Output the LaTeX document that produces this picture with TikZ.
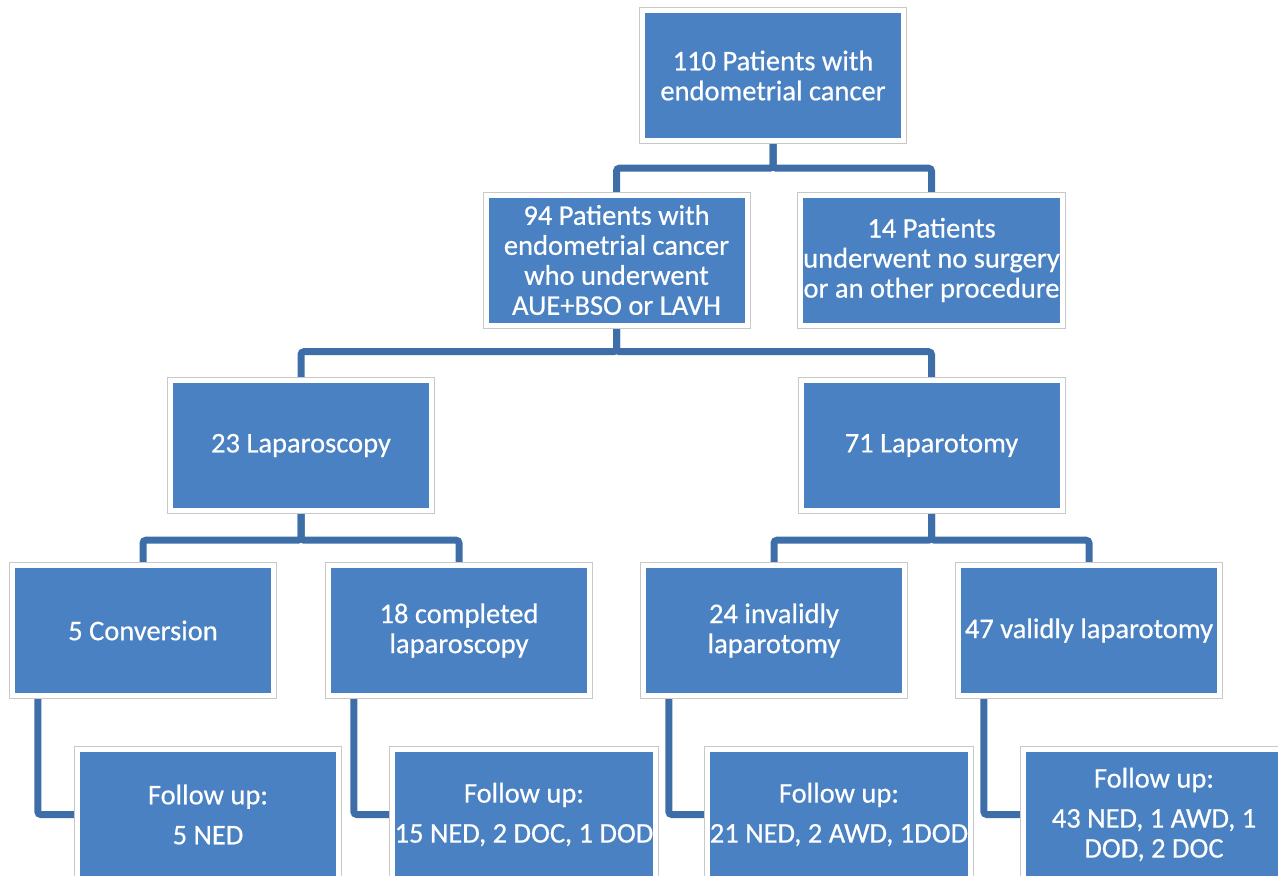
\documentclass[tikz,border=0pt]{standalone}
\usepackage{fontspec}
\setmainfont{Carlito}
\newfontfamily\boxfont[FakeBold=0.5]{Carlito}
\usetikzlibrary{backgrounds}
\definecolor{boxblue}{RGB}{74,129,194}
\definecolor{connblue}{RGB}{62,110,168}
\definecolor{framegray}{RGB}{200,200,200}
\tikzset{
  flowbox/.style={rectangle, fill=boxblue, minimum width=256pt, minimum height=125pt,
    inner sep=0pt, text=white, align=center, font=\boxfont\fontsize{28.5}{30}\selectfont,
    preaction={draw=framegray, line width=12pt},
    preaction={draw=white, line width=10pt}},
  conn/.style={draw=connblue, line width=7pt, rounded corners=3pt}
}
\begin{document}
\begin{tikzpicture}[x=1pt,y=-1pt]
\useasboundingbox (0,0) rectangle (1278,876);
\clip (0,0) rectangle (1278,876);
\node[flowbox] (top) at (773,75.5) {110 Patients with\\endometrial cancer};
\node[flowbox] (n94) at (616.5,260) {94 Patients with\\endometrial cancer\\who underwent\\AUE+BSO or LAVH};
\node[flowbox] (n14) at (931.5,260) {14 Patients\\underwent no surgery\\or an other procedure};
\node[flowbox] (lap) at (301,445.5) {23 Laparoscopy};
\node[flowbox] (lat) at (931.5,445.5) {71 Laparotomy};
\node[flowbox] (conv) at (143,630.5) {5 Conversion};
\node[flowbox] (comp) at (459,630.5) {18 completed\\laparoscopy};
\node[flowbox] (inval) at (774,630.5) {24 invalidly\\laparotomy};
\node[flowbox] (valid) at (1089,630.5) {47 validly laparotomy};
\node[flowbox] (f1) at (208,814.5) {Follow up:\\[10pt]5 NED};
\node[flowbox] (f2) at (524,814.5) {Follow up:\\[10pt]15 NED, 2 DOC, 1 DOD};
\node[flowbox] (f3) at (839,814.5) {Follow up:\\[10pt]21 NED, 2 AWD, 1DOD};
\node[flowbox] (f4) at (1154,814.5) {Follow up:\\[10pt]43 NED, 1 AWD, 1\\DOD, 2 DOC};
\begin{pgfonlayer}{background}
\draw[conn] (top.south) -- ++(0,30) -| (n94.north);
\draw[conn] (top.south) -- ++(0,30) -| (n14.north);
\draw[conn] (n94.south) -- ++(0,29) -| (lap.north);
\draw[conn] (n94.south) -- ++(0,29) -| (lat.north);
\draw[conn] (lap.south) -- ++(0,32) -| (conv.north);
\draw[conn] (lap.south) -- ++(0,32) -| (comp.north);
\draw[conn] (lat.south) -- ++(0,32) -| (inval.north);
\draw[conn] (lat.south) -- ++(0,32) -| (valid.north);
\draw[conn] ([xshift=23pt]conv.south west) |- (f1.west);
\draw[conn] ([xshift=23pt]comp.south west) |- (f2.west);
\draw[conn] ([xshift=23pt]inval.south west) |- (f3.west);
\draw[conn] ([xshift=23pt]valid.south west) |- (f4.west);
\end{pgfonlayer}
\end{tikzpicture}
\end{document}
